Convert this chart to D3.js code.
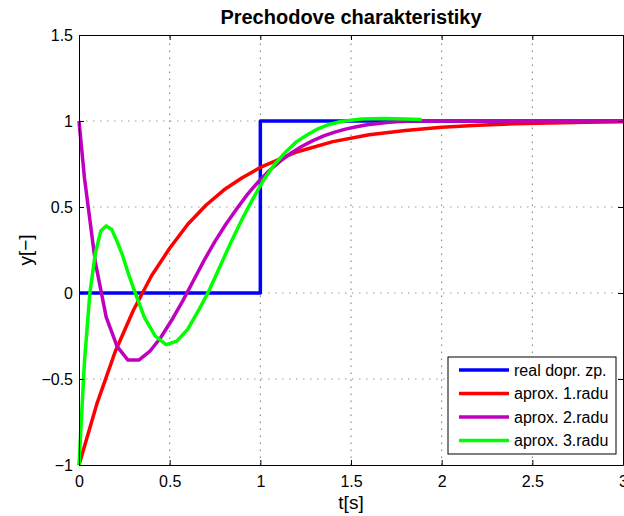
<!DOCTYPE html>
<html>
<head>
<meta charset="utf-8">
<script src="https://cdn.jsdelivr.net/npm/d3@7"></script>
<style>
  body { margin: 0; background: #fff; }
  svg { display: block; font-family: "Liberation Sans", Arial, Helvetica, sans-serif; }
</style>
</head>
<body>
<div id="chart"></div>
<script>
// tick values and labels
const xTicks = [0, 0.5, 1, 1.5, 2, 2.5, 3];
const xTickLabels = ['0', '0.5', '1', '1.5', '2', '2.5', '3'];
const yTicks = [-1, -0.5, 0, 0.5, 1, 1.5];
const yTickLabels = ['\u22121', '\u22120.5', '0', '0.5', '1', '1.5'];

// legend names
const seriesNames = ['real dopr. zp.', 'aprox. 1.radu', 'aprox. 2.radu', 'aprox. 3.radu'];

// real transport delay (step at t = 1)
const realT = [0, 1, 1, 3];
const realY = [0, 0, 1, 1];

// 1st order approximation
const apr1T = [0, 0.1, 0.2, 0.3, 0.4, 0.5, 0.6, 0.7, 0.8, 0.9, 1.0, 1.2, 1.4, 1.6, 1.8, 2.0, 2.2, 2.4, 2.6, 2.8, 3.0];
const apr1Y = [-1, -0.64, -0.34, -0.10, 0.10, 0.26, 0.40, 0.51, 0.60, 0.67, 0.73, 0.82, 0.88, 0.92, 0.945, 0.963, 0.975, 0.984, 0.989, 0.993, 0.995];

// 2nd order approximation
const apr2T = [0, 0.03, 0.09, 0.15, 0.21, 0.27, 0.33, 0.39, 0.45, 0.51, 0.57, 0.63, 0.69, 0.75, 0.81, 0.87, 0.93, 0.99,
  1.05, 1.11, 1.17, 1.23, 1.29, 1.35, 1.41, 1.47, 1.53, 1.59, 1.65, 1.71, 1.77, 1.83, 2.1, 2.4, 2.7, 3.0];
const apr2Y = [1, 0.67, 0.18, -0.14, -0.31, -0.39, -0.39, -0.34, -0.26, -0.16, -0.05, 0.07, 0.19, 0.30, 0.40, 0.49, 0.575, 0.648,
  0.712, 0.767, 0.814, 0.853, 0.886, 0.913, 0.935, 0.953, 0.967, 0.978, 0.986, 0.993, 0.997, 1.0, 1.0, 1.0, 1.0, 1.0];

// 3rd order approximation
const apr3T = [0, 0.03, 0.06, 0.09, 0.12, 0.15, 0.18, 0.21, 0.24, 0.27, 0.30, 0.36, 0.42, 0.48, 0.54, 0.60, 0.66, 0.72,
  0.78, 0.84, 0.90, 0.96, 1.02, 1.08, 1.14, 1.20, 1.26, 1.32, 1.38, 1.44, 1.50, 1.56, 1.62, 1.68, 1.74, 1.80, 1.89];
const apr3Y = [-1, -0.40, 0.00, 0.23, 0.36, 0.39, 0.37, 0.30, 0.22, 0.12, 0.03, -0.14, -0.25, -0.30, -0.28, -0.21, -0.10, 0.02,
  0.16, 0.30, 0.43, 0.55, 0.66, 0.75, 0.82, 0.88, 0.92, 0.956, 0.98, 0.996, 1.005, 1.011, 1.013, 1.014, 1.013, 1.011, 1.008];

const colors = ['#0000ff', '#ff0000', '#bf00bf', '#00ff00'];

function drawChart() {
  const width = 624;
  const height = 516;
  const margin = { top: 35, right: 1, bottom: 51, left: 79 };

  const svg = d3.select('#chart')
    .append('svg')
    .attr('width', width)
    .attr('height', height);

  const x = d3.scaleLinear().domain([0, 3]).range([margin.left, width - margin.right]);
  const y = d3.scaleLinear().domain([-1, 1.5]).range([height - margin.bottom, margin.top]);

  // grid lines (dotted)
  const grid = svg.append('g').attr('class', 'grid');
  grid.selectAll('line.gx')
    .data(xTicks.slice(1, -1))
    .join('line')
    .attr('class', 'gx')
    .attr('x1', d => x(d)).attr('x2', d => x(d))
    .attr('y1', y(-1)).attr('y2', y(1.5))
    .attr('stroke', '#777')
    .attr('stroke-dasharray', '1.5,5.5');
  grid.selectAll('line.gy')
    .data(yTicks.slice(1, -1))
    .join('line')
    .attr('class', 'gy')
    .attr('y1', d => y(d)).attr('y2', d => y(d))
    .attr('x1', x(0)).attr('x2', x(3))
    .attr('stroke', '#999')
    .attr('stroke-dasharray', '1.5,5.5');

  // curves
  const line = d3.line().x(d => x(d[0])).y(d => y(d[1]));
  const series = [
    d3.zip(realT, realY),
    d3.zip(apr1T, apr1Y),
    d3.zip(apr2T, apr2Y),
    d3.zip(apr3T, apr3Y)
  ];
  svg.append('g')
    .selectAll('path')
    .data(series)
    .join('path')
    .attr('d', line)
    .attr('fill', 'none')
    .attr('stroke', (d, i) => colors[i])
    .attr('stroke-width', 3.5)
    .attr('stroke-linejoin', 'round');

  // axes with inward ticks
  const xAxis = d3.axisBottom(x).tickValues(xTicks)
    .tickFormat((d, i) => xTickLabels[i]).tickSizeInner(-5).tickSizeOuter(0).tickPadding(11);
  const yAxis = d3.axisLeft(y).tickValues(yTicks)
    .tickFormat((d, i) => yTickLabels[i]).tickSizeInner(-5).tickSizeOuter(0).tickPadding(6);

  const gx = svg.append('g').attr('transform', `translate(0,${y(-1)})`).call(xAxis);
  const gy = svg.append('g').attr('transform', `translate(${x(0)},0)`).call(yAxis);
  svg.append('g').attr('transform', `translate(0,${y(1.5)})`)
    .call(d3.axisTop(x).tickValues(xTicks).tickFormat('').tickSizeInner(-5).tickSizeOuter(0));
  svg.append('g').attr('transform', `translate(${x(3)},0)`)
    .call(d3.axisRight(y).tickValues(yTicks).tickFormat('').tickSizeInner(-5).tickSizeOuter(0));

  svg.selectAll('.domain, .tick line').attr('stroke', '#000');
  [gx, gy].forEach(g => g.selectAll('text')
    .attr('font-size', 16)
    .attr('font-family', '"Liberation Sans", Arial, sans-serif')
    .attr('fill', '#000'));

  // title and axis labels
  svg.append('text')
    .attr('x', (x(0) + x(3)) / 2)
    .attr('y', 24)
    .attr('text-anchor', 'middle')
    .attr('font-size', 20)
    .attr('font-weight', 'bold')
    .text('Prechodove charakteristiky');

  svg.append('text')
    .attr('x', (x(0) + x(3)) / 2)
    .attr('y', 509)
    .attr('text-anchor', 'middle')
    .attr('font-size', 19)
    .text('t[s]');

  svg.append('text')
    .attr('transform', `translate(32,${(y(-1) + y(1.5)) / 2}) rotate(-90)`)
    .attr('text-anchor', 'middle')
    .attr('font-size', 19)
    .text('y[\u2212]');

  // legend
  const legend = svg.append('g').attr('transform', 'translate(448,357)');
  legend.append('rect')
    .attr('width', 168)
    .attr('height', 97)
    .attr('fill', '#fff')
    .attr('stroke', '#000');
  const rows = legend.selectAll('g.row')
    .data(seriesNames)
    .join('g')
    .attr('class', 'row')
    .attr('transform', (d, i) => `translate(0,${13 + i * 23.5})`);
  rows.append('line')
    .attr('x1', 11).attr('x2', 61)
    .attr('stroke', (d, i) => colors[i])
    .attr('stroke-width', 3.5);
  rows.append('text')
    .attr('x', 66)
    .attr('dy', '0.36em')
    .attr('font-size', 16)
    .text(d => d);
}

drawChart();
</script>
</body>
</html>
